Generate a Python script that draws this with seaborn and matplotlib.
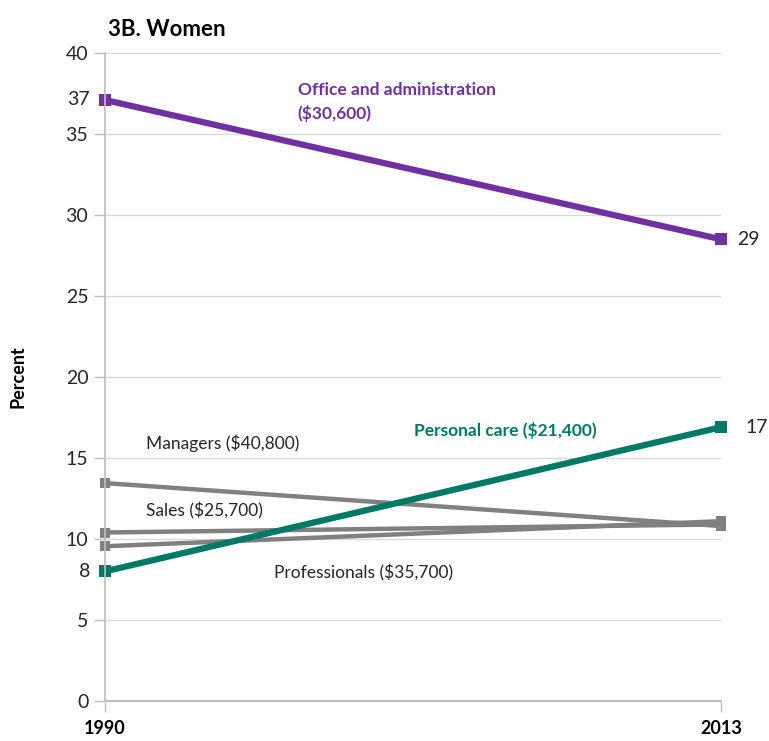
import pandas as pd
import matplotlib.pyplot as plt
import seaborn as sns

years = [1990, 2013]
office = [37.1, 28.5]
personal_care = [8.0, 16.9]
managers = [13.45, 10.8]
sales = [10.4, 10.9]
professionals = [9.55, 11.1]

purple = "#7030A0"
teal = "#007A66"
grey = "#808080"
text_col = "#262626"

sns.set_theme(style="white")
plt.rcParams["font.family"] = ["Lato", "DejaVu Sans"]

fig = plt.figure(figsize=(7.69, 7.41), dpi=100)
ax = fig.add_axes([0.1365, 0.054, 0.801, 0.8745])

# grey series first so the coloured ones sit on top
for vals in [managers, sales, professionals]:
    d = pd.DataFrame({"year": years, "pct": vals})
    sns.lineplot(data=d, x="year", y="pct", ax=ax, color=grey, lw=3.2,
                 marker="s", markersize=6.5, markeredgewidth=0)
d = pd.DataFrame({"year": years, "pct": personal_care})
sns.lineplot(data=d, x="year", y="pct", ax=ax, color=teal, lw=4.5,
             marker="s", markersize=8, markeredgewidth=0)
d = pd.DataFrame({"year": years, "pct": office})
sns.lineplot(data=d, x="year", y="pct", ax=ax, color=purple, lw=4.5,
             marker="s", markersize=8, markeredgewidth=0)
for ln in ax.lines:
    ln.set_clip_on(False)

ax.set_xlim(1990, 2013)
ax.set_ylim(0, 40)
ax.set_yticks(range(0, 41, 5))
ax.set_xticks(years)
ax.set_xticklabels(["1990", "2013"], fontweight="bold", fontsize=13)
ax.tick_params(axis="y", labelsize=14, colors=text_col, length=8, width=1,
               direction="out", color="#BFBFBF", left=True, pad=4)
ax.tick_params(axis="x", length=8, width=1, direction="out", color="#BFBFBF",
               bottom=True, pad=6, labelcolor="black")
ax.grid(axis="y", color="#D9D9D9", lw=1)
ax.set_axisbelow(True)
for s in ["top", "right"]:
    ax.spines[s].set_visible(False)
ax.spines["left"].set_color("#BFBFBF")
ax.spines["bottom"].set_color("#BFBFBF")
ax.spines["bottom"].set_linewidth(1.5)

ax.set_xlabel("")
ax.set_ylabel("Percent", fontweight="bold", fontsize=13, labelpad=28, color="black")
ax.set_title("3B. Women", fontweight="bold", fontsize=16, loc="left",
             x=0.005, pad=12, color="black")

# value labels at the ends
ax.text(1989.45, office[0], "37", ha="right", va="center", fontsize=14, color=text_col)
ax.text(1989.45, personal_care[0], "8", ha="right", va="center", fontsize=14, color=text_col)
ax.text(2013.6, office[1], "29", ha="left", va="center", fontsize=14, color=text_col)
ax.text(2013.9, personal_care[1], "17", ha="left", va="center", fontsize=14, color=text_col)

# series labels
ax.text(1997.2, 37.0, "Office and administration\n($30,600)", color=purple,
        fontweight="bold", fontsize=12.5, ha="left", va="center", linespacing=1.5)
ax.text(2001.55, 16.7, "Personal care ($21,400)", color=teal,
        fontweight="bold", fontsize=12.5, ha="left", va="center")
ax.text(1991.55, 15.9, "Managers ($40,800)", color=text_col, fontsize=12.5,
        ha="left", va="center")
ax.text(1991.55, 11.75, "Sales ($25,700)", color=text_col, fontsize=12.5,
        ha="left", va="center")
ax.text(1996.3, 7.9, "Professionals ($35,700)", color=text_col, fontsize=12.5,
        ha="left", va="center")

fig.savefig("out.png", dpi=100)
